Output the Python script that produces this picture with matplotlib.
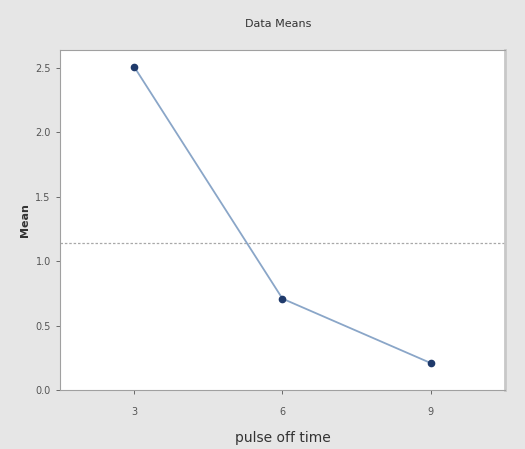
import numpy as np
import matplotlib.pyplot as plt

# pulse off time levels and their data means
pulse_off = [3, 6, 9]
means = [2.51, 0.71, 0.21]
yticks = [0.0, 0.5, 1.0, 1.5, 2.0, 2.5]

grand_mean = np.mean(means)

fig = plt.figure(figsize=(5.25, 4.49), dpi=100, facecolor='#e6e6e6')
ax = fig.add_axes([0.114, 0.131, 0.848, 0.758])
ax.set_facecolor('white')

ax.axhline(grand_mean, color='#a8a8a8', linestyle=(0, (2, 1.5)), linewidth=0.9)
ax.plot(pulse_off, means, color='#8aa6c8', linewidth=1.3,
        marker='o', markersize=4.5, markerfacecolor='#1f3a6b', markeredgecolor='#1f3a6b')

ax.set_xlim(1.5, 10.5)
ax.set_ylim(0.0, 2.64)
ax.set_xticks(pulse_off)
ax.set_xticklabels([str(v) for v in pulse_off])
ax.set_yticks(yticks)
ax.set_yticklabels(['%.1f' % v for v in yticks])
ax.tick_params(labelsize=7, colors='#555555', length=3, width=0.6)
ax.tick_params(axis='x', pad=9)

for s in ax.spines.values():
    s.set_color('#a0a0a0')
    s.set_linewidth(0.8)
ax.spines['right'].set_linewidth(2.0)
ax.spines['right'].set_color('#c8c8c8')

fig.text(0.53, 0.947, 'Data Means', ha='center', va='center', fontsize=8, color='#333333')
ax.set_ylabel('Mean', fontsize=8, fontweight='bold', color='#333333', labelpad=4)
ax.set_xlabel('pulse off time', fontsize=10, color='#333333', labelpad=10)

fig.savefig('out.png', dpi=100, facecolor=fig.get_facecolor())
